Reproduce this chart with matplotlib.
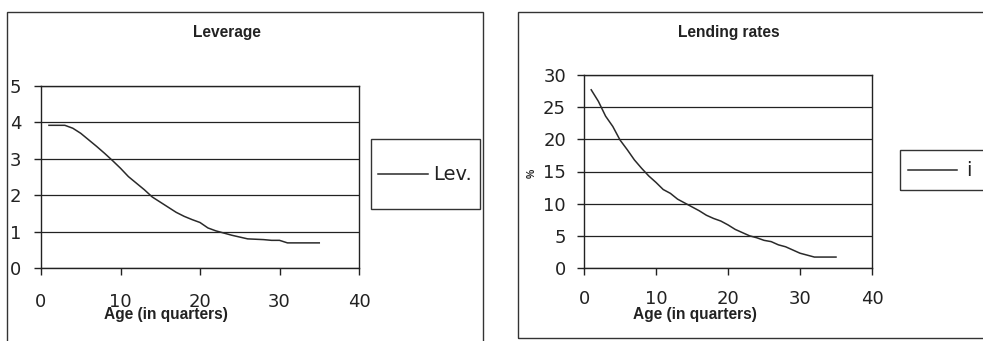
import matplotlib
matplotlib.use("Agg")
import matplotlib.pyplot as plt
from matplotlib.patches import Rectangle
from matplotlib.lines import Line2D

plt.rcParams['font.family'] = ['Liberation Sans', 'DejaVu Sans']

# ---- data ----
age = list(range(1, 36))
leverage = [3.92, 3.92, 3.92, 3.84, 3.70, 3.52, 3.34, 3.15, 2.95, 2.74,
            2.51, 2.33, 2.15, 1.95, 1.81, 1.67, 1.53, 1.42, 1.33, 1.25,
            1.10, 1.02, 0.96, 0.90, 0.85, 0.80, 0.79, 0.78, 0.76, 0.76,
            0.69, 0.69, 0.69, 0.69, 0.69]
lending = [27.7, 25.9, 23.6, 22.0, 19.9, 18.4, 16.8, 15.5, 14.3, 13.3,
           12.2, 11.6, 10.7, 10.1, 9.5, 8.9, 8.2, 7.7, 7.3, 6.7,
           6.0, 5.5, 5.0, 4.7, 4.3, 4.1, 3.6, 3.3, 2.8, 2.3,
           2.0, 1.7, 1.7, 1.7, 1.7]
x_ticks = [0, 10, 20, 30, 40]
lev_ticks = [0, 1, 2, 3, 4, 5]
rate_ticks = [0, 5, 10, 15, 20, 25, 30]
titles = ['Leverage', 'Lending rates']
legend_labels = ['Lev.', 'i']
x_label = 'Age (in quarters)'

W, H = 983, 341
fig = plt.figure(figsize=(W / 100, H / 100), dpi=100)
fig.patch.set_facecolor('white')

def fx(px):
    return px / W

def fy(py):
    return 1 - py / H

def rect(x0, y0, x1, y1):
    return [fx(x0), fy(y1), fx(x1) - fx(x0), fy(y0) - fy(y1)]

def frame(x0, y0, x1, y1, lw=1.0):
    fig.patches.append(Rectangle((fx(x0), fy(y1)), fx(x1) - fx(x0), fy(y0) - fy(y1),
                                 transform=fig.transFigure, fill=False,
                                 edgecolor='#333333', linewidth=lw, zorder=5))

# panel frames
frame(7, 12, 483, 345)
frame(518, 12, 995, 338)

tick_col = '#222222'
tick_font = ['DejaVu Sans']

def style(ax, yticks, ypad, xpad):
    ax.set_xlim(0, 40)
    ax.set_xticks(x_ticks)
    ax.set_yticks(yticks)
    ax.set_ylim(yticks[0], yticks[-1])
    ax.yaxis.grid(True, color='#222222', linewidth=0.9)
    ax.set_axisbelow(True)
    for s in ax.spines.values():
        s.set_color('#222222')
        s.set_linewidth(1.0)
    ax.tick_params(axis='y', direction='out', length=5, width=1, pad=ypad,
                   labelsize=13, labelcolor=tick_col, color='#222222')
    ax.tick_params(axis='x', direction='out', length=5, width=1, pad=xpad,
                   labelsize=13, labelcolor=tick_col, color='#222222')
    for lab in ax.get_xticklabels() + ax.get_yticklabels():
        lab.set_family(tick_font)

def legend_box(line, label, x0, y0, x1, y1, lx0, lx1, tx):
    frame(x0, y0, x1, y1)
    yc = (y0 + y1) / 2
    fig.lines.append(Line2D([fx(lx0), fx(lx1)], [fy(yc), fy(yc)],
                            transform=fig.transFigure, color=line.get_color(),
                            linewidth=line.get_linewidth()))
    fig.text(fx(tx), fy(yc), label, ha='left', va='center', fontsize=14,
             family=tick_font, color=tick_col)

# ---- left panel: Leverage ----
ax1 = fig.add_axes(rect(41, 86, 359, 268))
ln1, = ax1.plot(age, leverage, color='#2a2a2a', linewidth=1.1)
style(ax1, lev_ticks, 9, 13)
fig.text(fx(166), fy(314), x_label, ha='center', va='center', fontsize=11.2,
         fontweight='bold', color=tick_col)
fig.text(fx(227), fy(33), titles[0], ha='center', va='center',
         fontsize=11.2, fontweight='bold', color=tick_col)
legend_box(ln1, legend_labels[0], 371, 139, 480, 209, 378, 428, 433)

# ---- right panel: Lending rates ----
ax2 = fig.add_axes(rect(584, 75, 872, 268))
ln2, = ax2.plot(age, lending, color='#2a2a2a', linewidth=1.1)
style(ax2, rate_ticks, 8, 11)
fig.text(fx(695), fy(314), x_label, ha='center', va='center', fontsize=11.2,
         fontweight='bold', color=tick_col)
fig.text(fx(532), fy(173), '%', ha='center', va='center', rotation=90,
         fontsize=7.5, fontweight='bold', color=tick_col)
fig.text(fx(729), fy(33), titles[1], ha='center', va='center',
         fontsize=11.2, fontweight='bold', color=tick_col)
legend_box(ln2, legend_labels[1], 900, 150, 995, 190, 908, 957, 966)

fig.savefig('out.png', dpi=100, facecolor='white')
